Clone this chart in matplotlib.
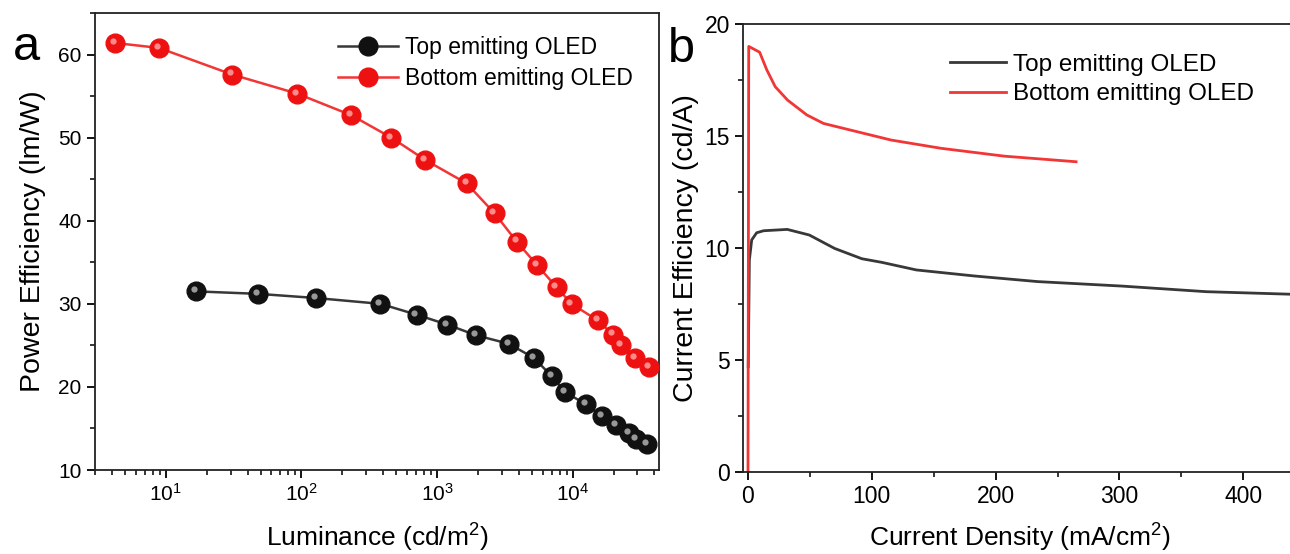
import numpy as np
import matplotlib
matplotlib.use('Agg')
import matplotlib.pyplot as plt
import matplotlib.transforms as mtransforms
from matplotlib.ticker import MultipleLocator, LogLocator, NullFormatter

plt.rcParams['font.family'] = ['Liberation Sans', 'DejaVu Sans']
plt.rcParams['mathtext.fontset'] = 'custom'
plt.rcParams['mathtext.rm'] = 'Liberation Sans'
plt.rcParams['mathtext.it'] = 'Liberation Sans:italic'

# panel a: power efficiency vs luminance
lum_bottom = [4.2, 8.9, 30.8, 93, 233, 460, 820, 1650, 2650, 3860, 5430, 7600,
              9800, 15300, 19800, 22600, 28800, 36500]
pe_bottom = [61.4, 60.8, 57.6, 55.3, 52.7, 50.0, 47.3, 44.5, 40.9, 37.5, 34.7, 32.0,
             30.0, 28.0, 26.3, 25.0, 23.5, 22.4]
lum_top = [16.7, 48, 128, 382, 705, 1190, 1950, 3370, 5160, 7000, 8750, 12500,
           16400, 20800, 26000, 29200, 35300]
pe_top = [31.5, 31.2, 30.7, 30.0, 28.7, 27.5, 26.2, 25.2, 23.5, 21.3, 19.4, 17.9,
          16.5, 15.4, 14.5, 13.7, 13.1]

# panel b: current efficiency vs current density
j_bottom = [0.0, 0.6, 9.4, 15.2, 22, 32, 47.5, 61, 115.5, 156, 207, 265]
ce_bottom = [0.0, 19.0, 18.74, 17.95, 17.2, 16.6, 15.94, 15.56, 14.82, 14.45, 14.1, 13.85]
j_top = [0.2, 1.1, 3, 7, 12.6, 31.7, 49.5, 70, 92, 108, 136, 183, 234, 302, 370, 442, 460]
ce_top = [4.7, 9.46, 10.36, 10.68, 10.77, 10.83, 10.58, 9.98, 9.52, 9.36, 9.02, 8.75,
          8.5, 8.3, 8.05, 7.93, 7.9]

labels = ['Top emitting OLED', 'Bottom emitting OLED']
c_black = '#383838'
c_red = '#f23535'

fig = plt.figure(figsize=(12.9, 5.54), dpi=100)
ax1 = fig.add_axes([0.0736, 0.1516, 0.4373, 0.8249])
ax2 = fig.add_axes([0.576, 0.148, 0.43, 0.8087])


def sphere_plot(ax, x, y, line_c, face_c, hi_c, label):
    ax.plot(x, y, '-', color=line_c, lw=1.8, marker='o', ms=13.5,
            mfc=face_c, mec=face_c, label=label, zorder=3)
    off = mtransforms.offset_copy(ax.transData, fig=fig, x=-1.5, y=1.5, units='points')
    ax.plot(x, y, 'o', ms=4.5, mfc=hi_c, mec='none', alpha=0.8,
            transform=off, zorder=4)


sphere_plot(ax1, lum_top, pe_top, c_black, '#111111', '#bbbbbb', labels[0])
sphere_plot(ax1, lum_bottom, pe_bottom, c_red, '#ee1111', '#ffaaaa', labels[1])

ax1.set_xscale('log')
ax1.set_xlim(3, 4.33e4)
ax1.set_ylim(10, 65)
ax1.yaxis.set_major_locator(MultipleLocator(10))
ax1.yaxis.set_minor_locator(MultipleLocator(5))
ax1.xaxis.set_major_locator(LogLocator(base=10))
ax1.xaxis.set_minor_locator(LogLocator(base=10, subs=np.arange(2, 10)))
ax1.xaxis.set_minor_formatter(NullFormatter())
ax1.set_xlabel('Luminance (cd/m$^2$)', fontsize=19, labelpad=12)
ax1.set_ylabel('Power Efficiency (lm/W)', fontsize=20.5, labelpad=9)
ax1.legend(loc='upper left', bbox_to_anchor=(0.415, 0.97), frameon=False,
           fontsize=16.5, handlelength=2.6, handletextpad=0.3, labelspacing=0.35,
           borderaxespad=0)

ax2.plot(j_top, ce_top, color=c_black, lw=2, label=labels[0])
ax2.plot(j_bottom, ce_bottom, color=c_red, lw=2, label=labels[1])
ax2.set_xlim(-4, 444)
ax2.set_ylim(0, 20)
ax2.xaxis.set_major_locator(MultipleLocator(100))
ax2.xaxis.set_minor_locator(MultipleLocator(50))
ax2.yaxis.set_major_locator(MultipleLocator(5))
ax2.yaxis.set_minor_locator(MultipleLocator(2.5))
ax2.spines['right'].set_visible(False)
ax2.set_xlabel('Current Density (mA/cm$^2$)', fontsize=19, labelpad=10)
ax2.set_ylabel('Current Efficiency (cd/A)', fontsize=20.5, labelpad=4)
ax2.legend(loc='upper left', bbox_to_anchor=(0.355, 0.955), frameon=False,
           fontsize=17.5, handlelength=2.3, handletextpad=0.3, labelspacing=0.3,
           borderaxespad=0)

for ax, ls in ((ax1, 15), (ax2, 16.5)):
    for s in ax.spines.values():
        s.set_linewidth(1.3)
        s.set_color('#222222')
    ax.tick_params(which='major', direction='out', length=6, width=1.3,
                   labelsize=ls, top=False, right=False)
    ax.tick_params(which='minor', direction='out', length=3.5, width=1.1,
                   top=False, right=False)

fig.text(0.01, 0.915, 'a', fontsize=35, va='center')
fig.text(0.518, 0.91, 'b', fontsize=35, va='center')

fig.savefig('out.png', dpi=100)
